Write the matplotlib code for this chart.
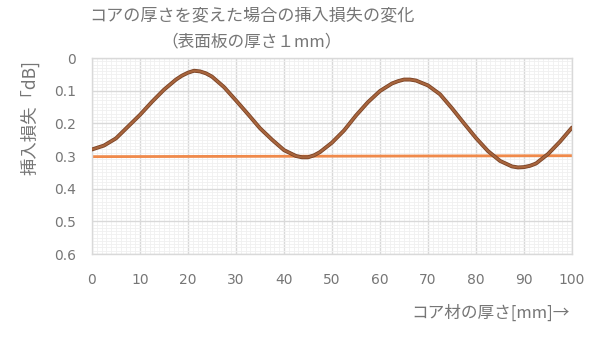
import matplotlib
matplotlib.use("Agg")
import matplotlib.pyplot as plt
from matplotlib.ticker import MultipleLocator

plt.rcParams['font.family'] = ['Noto Sans CJK JP', 'DejaVu Sans']

thickness = [0, 2.5, 5, 7.5, 10, 12.5, 15, 17.5, 18.75, 20, 21.25, 22.5, 23.75, 25, 27.5,
             30, 32.5, 35, 37.5, 40, 42.5, 43.75, 45, 46.25, 47.5, 50, 52.5, 55, 57.5, 60,
             62.5, 63.75, 65, 66.25, 67.5, 70, 72.5, 75, 77.5, 80, 82.5, 85, 87.5, 88.75,
             90, 91.25, 92.5, 95, 97.5, 100]
loss_core = [0.280, 0.268, 0.246, 0.210, 0.174, 0.134, 0.097, 0.066, 0.054, 0.045, 0.039,
             0.041, 0.047, 0.057, 0.089, 0.130, 0.172, 0.215, 0.250, 0.282, 0.300, 0.304,
             0.304, 0.298, 0.288, 0.259, 0.222, 0.176, 0.135, 0.101, 0.078, 0.071, 0.066,
             0.066, 0.069, 0.084, 0.111, 0.154, 0.200, 0.245, 0.285, 0.315, 0.332, 0.335,
             0.334, 0.330, 0.323, 0.294, 0.256, 0.213]
ref_x = [0, 100]
ref_loss = [0.302, 0.299]

x_ticks = [0, 10, 20, 30, 40, 50, 60, 70, 80, 90, 100]
y_ticks = [0, 0.1, 0.2, 0.3, 0.4, 0.5, 0.6]
y_tick_labels = ['0', '0.1', '0.2', '0.3', '0.4', '0.5', '0.6']

title_l1 = 'コアの厚さを変えた場合の挿入損失の変化'
title_l2 = '（表面板の厚さ１mm）'
y_label = '挿入損失「dB]'
x_label = 'コア材の厚さ[mm]→'

gray = '#767676'

fig = plt.figure(figsize=(5.9, 3.64), dpi=100)
ax = fig.add_axes([92/590, 1-254/364, 480/590, 196/364])

ax.plot(thickness, loss_core, color='#7a4326', lw=2.8, solid_capstyle='round',
        solid_joinstyle='round', zorder=3)
ax.plot(thickness, loss_core, color='#A8653D', lw=1.6, solid_capstyle='round',
        solid_joinstyle='round', zorder=4)
ax.plot(ref_x, ref_loss, color='#F08A4B', lw=2.0, zorder=2)

ax.set_xlim(0, 100)
ax.set_ylim(0.6, 0)
ax.set_xticks(x_ticks)
ax.set_yticks(y_ticks)
ax.set_yticklabels(y_tick_labels)
ax.xaxis.set_minor_locator(MultipleLocator(1))
ax.yaxis.set_minor_locator(MultipleLocator(0.01))
ax.grid(which='major', color='#D9D9D9', lw=1.0, zorder=1)
ax.grid(which='minor', color='#F0F0F0', lw=0.6, zorder=0)
ax.set_axisbelow(True)
for s in ax.spines.values():
    s.set_color('#D9D9D9')
    s.set_linewidth(1.0)
ax.tick_params(which='both', length=0, colors=gray, labelsize=10)
ax.tick_params(axis='x', pad=14)
ax.tick_params(axis='y', pad=11.5)
for lab in ax.get_xticklabels() + ax.get_yticklabels():
    lab.set_fontfamily('DejaVu Sans')

fig.text(252/590, 1-15/364, title_l1, ha='center', va='center', fontsize=12.3, color=gray)
fig.text(252/590, 1-42/364, title_l2, ha='center', va='center', fontsize=12, color=gray)
fig.text(30/590, 1-118/364, y_label, ha='center', va='center', rotation=90, fontsize=12.5, color=gray)
fig.text(570/590, 1-313/364, x_label, ha='right', va='center', fontsize=12, color=gray)

fig.savefig('out.png', dpi=100)
